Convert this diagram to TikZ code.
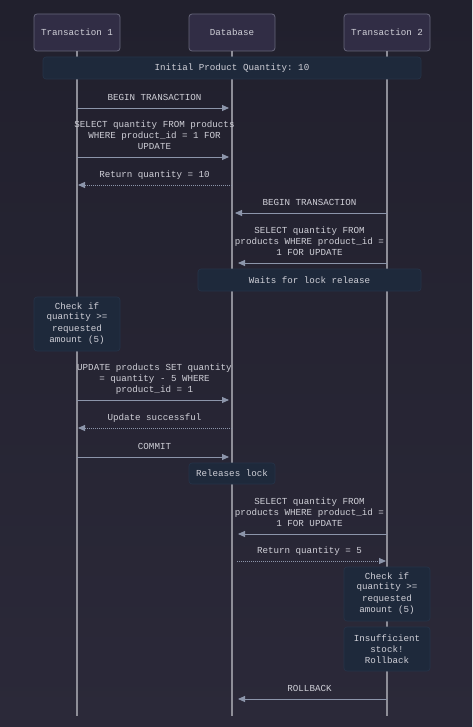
\documentclass[tikz,border=0pt]{standalone}
\usepackage{fontspec}
\setmonofont{Liberation Mono}
\usetikzlibrary{arrows.meta}
\definecolor{bgtop}{HTML}{21202D}
\definecolor{bgbot}{HTML}{2B2939}
\definecolor{actfill}{HTML}{312D45}
\definecolor{actdraw}{HTML}{66667A}
\definecolor{notefill}{HTML}{1E293B}
\definecolor{notedraw}{HTML}{263449}
\definecolor{lifegray}{HTML}{8E8E98}
\definecolor{msggray}{HTML}{8C95AA}
\definecolor{txtgray}{HTML}{D0D0D8}

\begin{document}
\begin{tikzpicture}[x=1pt,y=-1pt,
  font=\ttfamily\fontsize{9.2}{11}\selectfont,
  actor/.style={draw=actdraw,fill=actfill,rounded corners=3pt,line width=0.8pt,
    minimum width=86pt,minimum height=37pt,text=txtgray},
  note/.style={draw=notedraw,fill=notefill,rounded corners=3pt,line width=0.6pt,
    align=center,inner sep=0pt,text=txtgray},
  life/.style={draw=lifegray,line width=1.2pt},
  call/.style={color=msggray,line width=0.9pt,-{Triangle[length=7pt,width=6pt]},shorten >=3pt},
  reply/.style={call,dash pattern=on 1pt off 1pt},
  lbl/.style={above=4.8pt,inner sep=0pt,text depth=2pt,align=center,text=txtgray}]
\shade[top color=bgtop,bottom color=bgbot] (0,0) rectangle (472,727);
\coordinate (bottom) at (0,716);

\node[actor] (t1) at (77,32.5) {Transaction 1};
\node[actor] (db) at (232,32.5) {Database};
\node[actor] (t2) at (387,32.5) {Transaction 2};
\foreach \a in {t1,db,t2}
  \draw[life] (\a.south) -- (\a |- bottom);

\node[note,minimum width=378pt,minimum height=22pt] (init) at (232,68) {Initial Product Quantity: 10};
\node[note,minimum width=223pt,minimum height=22pt] (wait) at (309.5,280) {Waits for lock release};
\node[note,minimum width=86pt,minimum height=54pt] (chk1) at (77,324) {\raisebox{-1.5pt}{\shortstack{Check if\\quantity >=\\requested\\amount (5)}}};
\node[note,minimum width=86pt,minimum height=21pt] (rel) at (232,473.5) {Releases lock};
\node[note,minimum width=86pt,minimum height=54pt] (chk2) at (387,594) {\raisebox{-1.5pt}{\shortstack{Check if\\quantity >=\\requested\\amount (5)}}};
\node[note,minimum width=86pt,minimum height=44pt] (nostock) at (387,649) {Insufficient\\stock!\\Rollback};

\path[call]
(t1 |- 0,108) edge node[lbl] {BEGIN TRANSACTION} (db |- 0,108)
(t1 |- 0,157) edge node[lbl] {SELECT quantity FROM products\\WHERE product\_id = 1 FOR\\UPDATE} (db |- 0,157)
(t2 |- 0,213) edge node[lbl] {BEGIN TRANSACTION} (db |- 0,213)
(t2 |- 0,263) edge[shorten >=6pt] node[lbl] {SELECT quantity FROM\\products WHERE product\_id =\\1 FOR UPDATE} (db |- 0,263)
(t1 |- 0,400) edge node[lbl] {UPDATE products SET quantity\\= quantity - 5 WHERE\\product\_id = 1} (db |- 0,400)
(t1 |- 0,457) edge node[lbl] {COMMIT} (db |- 0,457)
(t2 |- 0,534) edge[shorten >=6pt] node[lbl] {SELECT quantity FROM\\products WHERE product\_id =\\1 FOR UPDATE} (db |- 0,534)
(t2 |- 0,699) edge[shorten >=6pt] node[lbl] {ROLLBACK} (db |- 0,699);
\path[reply]
(db |- 0,185) edge[shorten >=1pt] node[lbl] {Return quantity = 10} (t1 |- 0,185)
(db |- 0,428) edge[shorten >=1pt] node[lbl] {Update successful} (t1 |- 0,428)
(db |- 0,561) edge[shorten <=5pt,shorten >=1pt] node[lbl] {Return quantity = 5} (t2 |- 0,561);

\end{tikzpicture}
\end{document}
